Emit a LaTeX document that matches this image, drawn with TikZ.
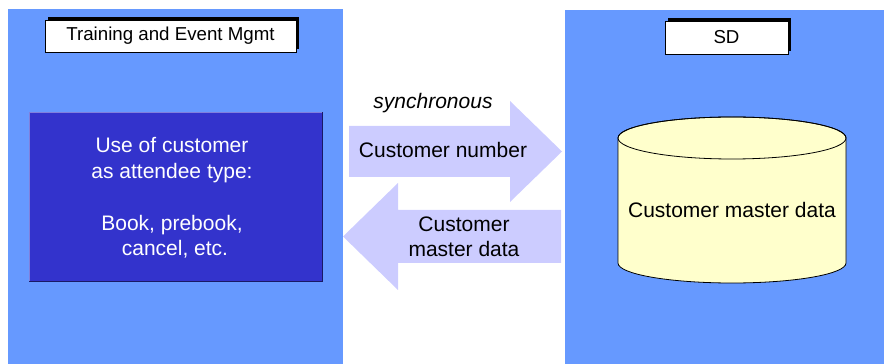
\documentclass[tikz,border=0pt]{standalone}
\usepackage{fontspec}
\setmainfont{Liberation Sans}
\usetikzlibrary{shadows}
\definecolor{panelblue}{HTML}{6699FF}
\definecolor{darkblue}{HTML}{3333CC}
\definecolor{arrowfill}{HTML}{CCCCFF}
\definecolor{cylfill}{HTML}{FFFFCC}
\definecolor{lightedge}{HTML}{8080DD}
\definecolor{darkedge}{HTML}{1A1A66}
\begin{document}
\begin{tikzpicture}[x=1pt,y=1pt,
  panelbox/.style={fill=panelblue, inner sep=0pt, outer sep=0pt, anchor=south west},
  titlebox/.style={fill=white, draw=black, line width=0.8pt, inner sep=0pt,
    font=\fontsize{18.7}{22}\selectfont,
    drop shadow={shadow xshift=2.5pt, shadow yshift=2.5pt, fill=black, opacity=1}},
  bigtext/.style={font=\fontsize{21}{25.8}\selectfont, inner sep=0pt},
  blockarrow/.style={fill=arrowfill, draw=none}
]
\useasboundingbox (0,0) rectangle (884,364);
% panels
\node[panelbox, minimum width=335, minimum height=355] (leftpanel) at (8,0) {};
\node[panelbox, minimum width=319, minimum height=354] (rightpanel) at (565,0) {};
% titles
\node[titlebox, minimum width=251, minimum height=32] (tem) at (170.5,328) {Training and Event Mgmt};
\node[titlebox, minimum width=123, minimum height=33] (sd) at (726.5,326.5) {SD};
% dark box
\node[fill=darkblue, minimum width=293, minimum height=169, inner sep=0pt, outer sep=0pt] (usebox) at (175.5,167.5) {};
\draw[lightedge, line width=0.8pt] (usebox.south west) -- (usebox.north west) -- (usebox.north east);
\draw[darkedge, line width=0.8pt] (usebox.north east) -- (usebox.south east) -- (usebox.south west);
\node[bigtext, text=white, align=center, anchor=base] (usetext) at (172,108)
  {Use of customer\\as attendee type:\\[25.8pt]Book, prebook,\hspace*{8pt}\\\hspace*{6pt}cancel, etc.};
% arrows
\fill[blockarrow] (349,187) -- (510,187) -- (510,162) -- (562,212.5) -- (510,263) -- (510,238) -- (349,238) -- cycle;
\fill[blockarrow] (561,101) -- (398,101) -- (398,74) -- (343,127.5) -- (398,181) -- (398,154) -- (561,154) -- cycle;
\node[bigtext, anchor=base, font=\fontsize{21}{25.8}\selectfont\itshape] (sync) at (433,255) {synchronous};
\node[bigtext, anchor=base] (custnum) at (443,206) {Customer number};
\node[bigtext, anchor=base, align=center] (custmd) at (464,107) {Customer\\master data};
% cylinder
\filldraw[fill=cylfill, draw=black, line width=0.8pt] (618,226) -- (618,101)
  arc[start angle=180, end angle=360, x radius=114pt, y radius=20pt] -- (846,226)
  arc[start angle=0, end angle=180, x radius=114pt, y radius=21pt] -- cycle;
\draw[black, line width=0.8pt] (732,226) ellipse [x radius=114pt, y radius=21pt];
\node[bigtext, anchor=base] (cmd) at (732,146) {Customer master data};
\end{tikzpicture}
\end{document}
